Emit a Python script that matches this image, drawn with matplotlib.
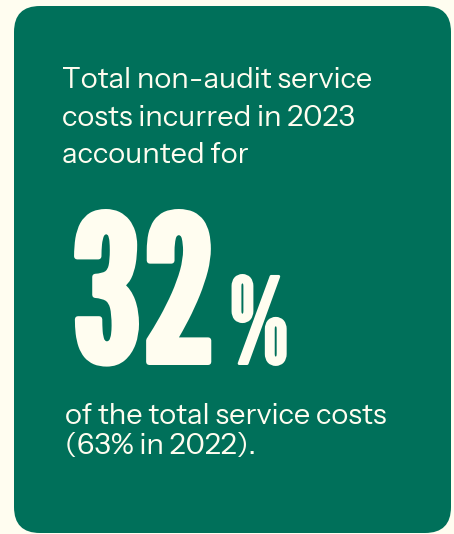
import matplotlib
matplotlib.use("Agg")
import matplotlib.pyplot as plt
from matplotlib.patches import FancyBboxPatch
from matplotlib.textpath import TextPath
from matplotlib.font_manager import FontProperties
import matplotlib.patheffects as pe

intro_lines = ["Total non-audit service", "costs incurred in 2023", "accounted for"]
big_value = "32"
big_unit = "%"
outro_lines = ["of the total service costs", "(63% in 2022)."]

BG = "#FFFDF0"
GREEN = "#00705A"
CREAM = "#FFFDF0"
BODY_FONT = "Instrument Sans"
BIG_FONT = "League Gothic"

W, H = 454, 534
DPI = 100
fig = plt.figure(figsize=(W / DPI, H / DPI), dpi=DPI, facecolor=BG)
ax = fig.add_axes([0, 0, 1, 1])
ax.set_xlim(0, W)
ax.set_ylim(H, 0)
ax.axis("off")

R = 26
left, top, right, bottom = 14, 6, 451, 533
panel = FancyBboxPatch((left + R, top + R), (right - left) - 2 * R, (bottom - top) - 2 * R,
                       boxstyle=f"round,pad={R}", facecolor=GREEN, edgecolor="none")
ax.add_patch(panel)


def ink(text, family):
    return TextPath((0, 0), text, size=100, prop=FontProperties(family=family)).get_extents()


def size_for_width(text, family, width_px):
    return width_px * 72 / DPI * 100 / ink(text, family).width


def size_for_height(text, family, height_px):
    return height_px * 72 / DPI * 100 / ink(text, family).y1


body_fs = size_for_width(intro_lines[0], BODY_FONT, 308)
for i, line in enumerate(intro_lines):
    ax.text(62, 88 + i * 37.5, line, fontsize=body_fs, family=BODY_FONT,
            color=CREAM, va="baseline", ha="left")

for i, line in enumerate(outro_lines):
    ax.text(65, 424.5 + i * 29.5, line, fontsize=body_fs, family=BODY_FONT,
            color=CREAM, va="baseline", ha="left")


def big_text(s, x_left, baseline, height_px, sw):
    fs = size_for_height(s, BIG_FONT, height_px - sw)
    ax.text(x_left + sw / 2, baseline - sw / 2, s, fontsize=fs, family=BIG_FONT,
            color=CREAM, va="baseline", ha="left",
            path_effects=[pe.withStroke(linewidth=sw * 72 / DPI, foreground=CREAM)])


big_text(big_value, 68, 365, 156, 6)
big_text(big_unit, 228, 365, 91, 3)

fig.savefig("out.png", dpi=DPI, facecolor=BG)
